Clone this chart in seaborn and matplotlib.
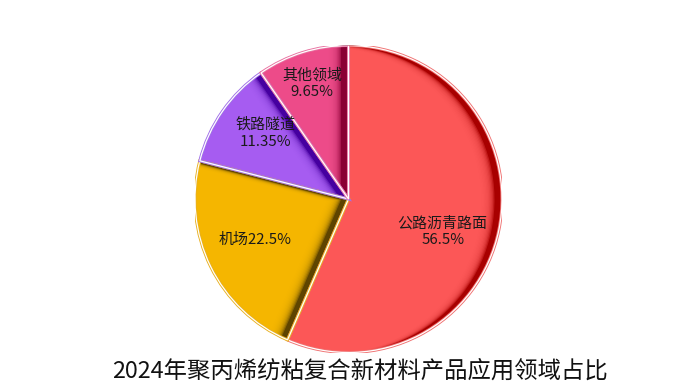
import matplotlib
matplotlib.use("Agg")
import matplotlib.pyplot as plt
from matplotlib.patches import Wedge
from matplotlib.transforms import offset_copy
import numpy as np
import seaborn as sns

# Application shares of spunbond PP composite materials, 2024 (%)
categories = ["公路沥青路面", "机场", "铁路隧道", "其他领域"]
shares = [56.5, 22.5, 11.35, 9.65]
label_breaks = ["\n", "", "\n", "\n"]
title = "2024年聚丙烯纺粘复合新材料产品应用领域占比"

base_colors = ["#FF5A5A", "#F8B900", "#A95FF4", "#F04E8C"]
shade_colors = ["#A80000", "#5E4400", "#4600A0", "#8A0034"]
rim_colors = ["#F07070", "#E8B020", "#A070E8", "#E870A0"]

sns.set_theme(style="white")
plt.rcParams["font.family"] = ["Noto Sans CJK SC", "DejaVu Sans"]

W, H, DPI = 685, 389, 100
fig = plt.figure(figsize=(W / DPI, H / DPI), dpi=DPI)
fig.patch.set_facecolor("white")

cx, cy, R = 348.5, 199.0, 153.5
ax = fig.add_axes([(cx - R) / W, (H - cy - R) / H, 2 * R / W, 2 * R / H])

wedges, _ = ax.pie(
    shares,
    colors=shade_colors,
    startangle=90,
    counterclock=False,
    radius=1.0,
    wedgeprops=dict(edgecolor="none", linewidth=0),
)
ax.set_xlim(-1, 1)
ax.set_ylim(-1, 1)
ax.set_aspect("equal")
ax.axis("off")

# Soft inner shading: lighter copies shifted left, clipped to each wedge
for w, base in zip(wedges, base_colors):
    for k in range(14):
        s = 7.5 + 1.3 * k
        tr = offset_copy(ax.transData, fig=fig, x=-s, y=-0.1 * s, units="dots")
        p = Wedge(w.center, w.r, w.theta1, w.theta2, facecolor=base,
                  edgecolor="none", alpha=0.3, transform=tr)
        ax.add_patch(p)
        p.set_clip_path(w)

# Double outline: tinted rim with a white line on top
for w, rim in zip(wedges, rim_colors):
    for ec, lw in ((rim, 2.2), ("white", 0.9)):
        ax.add_patch(Wedge(w.center, w.r, w.theta1, w.theta2, facecolor="none",
                           edgecolor=ec, linewidth=lw, joinstyle="miter"))

# Data labels
label_radius = [0.65, 0.665, 0.69, 0.79]
angle_nudge = [-7.5, -2.4, -3.5, 0.0]
for w, name, v, br, rr, dn in zip(wedges, categories, shares, label_breaks,
                                  label_radius, angle_nudge):
    ang = np.deg2rad((w.theta1 + w.theta2) / 2 + dn)
    ax.text(rr * np.cos(ang), rr * np.sin(ang), f"{name}{br}{v:g}%",
            ha="center", va="center", fontsize=10.8, color="#1a1a1a",
            linespacing=1.25)

fig.text(360 / W, 1 - 371 / H, title, ha="center", va="center",
         fontsize=16.8, color="#111111")

fig.savefig("out.png", dpi=DPI, facecolor="white")
